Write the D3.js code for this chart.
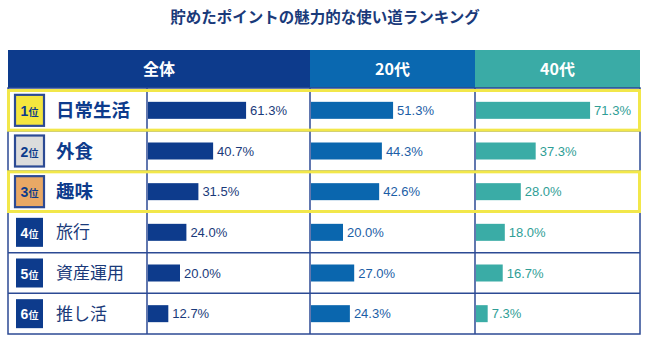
<!DOCTYPE html>
<html>
<head>
<meta charset="utf-8">
<script src="https://cdn.jsdelivr.net/npm/d3@7"></script>
<style>
  body { margin: 0; background: #fff; }
  text { font-family: "Noto Sans CJK JP", "Noto Sans", sans-serif; }
  .num { font-family: "Liberation Sans", Arial, sans-serif; }
</style>
</head>
<body>
<div id="chart"></div>
<script>
const title = '貯めたポイントの魅力的な使い道ランキング';
const groups = ['全体', '20代', '40代'];
const ranks = [1, 2, 3, 4, 5, 6];
const categories = ['日常生活', '外食', '趣味', '旅行', '資産運用', '推し活'];
const overall = [61.3, 40.7, 31.5, 24.0, 20.0, 12.7];
const age20 = [51.3, 44.3, 42.6, 20.0, 27.0, 24.3];
const age40 = [71.3, 37.3, 28.0, 18.0, 16.7, 7.3];

function makeChart() {
    const w = 650, h = 349;
    const navy = '#0d3b8c';
    const gridColor = '#2c4a94';
    const highlight = '#f2e74a';

    const svg = d3.select('#chart')
        .append('svg')
        .attr('width', w)
        .attr('height', h);

    // column layout: label column + three bar columns
    const left = 8, right = 640;
    const colEdges = [147, 310, 475, right];
    const headTop = 50, headBottom = 88;
    const tableBottom = 334;

    const series = [
        {name: groups[0], values: overall, bar: '#0d3b8c', text: '#1a3a7a', x0: colEdges[0], x1: colEdges[1]},
        {name: groups[1], values: age20, bar: '#0a66ae', text: '#1c5ea6', x0: colEdges[1], x1: colEdges[2]},
        {name: groups[2], values: age40, bar: '#3aaca6', text: '#2f9e96', x0: colEdges[2], x1: colEdges[3]}
    ];

    const y = d3.scaleBand()
        .domain(categories)
        .range([headBottom + 2, tableBottom]);

    const x = d3.scaleLinear()
        .domain([0, 100])
        .range([0, 160]);

    svg.append('text')
        .attr('x', w / 2)
        .attr('y', 23)
        .attr('text-anchor', 'middle')
        .attr('font-size', 15.5)
        .attr('font-weight', 'bold')
        .attr('fill', '#1a3a7a')
        .text(title);

    // header cells
    const headCells = [
        {label: groups[0], x0: left, x1: colEdges[1], fill: navy},
        {label: groups[1], x0: colEdges[1], x1: colEdges[2], fill: '#0a68b0'},
        {label: groups[2], x0: colEdges[2], x1: right, fill: '#3aaba6'}
    ];
    svg.selectAll('.head')
        .data(headCells)
        .enter()
        .append('rect')
        .attr('x', d => d.x0)
        .attr('y', headTop)
        .attr('width', d => d.x1 - d.x0)
        .attr('height', headBottom - headTop)
        .attr('fill', d => d.fill);
    svg.selectAll('.headText')
        .data(headCells)
        .enter()
        .append('text')
        .attr('x', d => (d.x0 + d.x1) / 2)
        .attr('y', (headTop + headBottom) / 2 + 6)
        .attr('text-anchor', 'middle')
        .attr('font-size', 16)
        .attr('font-weight', 'bold')
        .attr('fill', '#fff')
        .text(d => d.label);

    // grid
    const grid = svg.append('g')
        .attr('stroke', gridColor)
        .attr('stroke-width', 1.5)
        .attr('fill', 'none');
    grid.append('rect')
        .attr('x', left)
        .attr('y', headBottom)
        .attr('width', right - left)
        .attr('height', tableBottom - headBottom);
    categories.slice(1).forEach(c => {
        grid.append('line')
            .attr('x1', left).attr('x2', right)
            .attr('y1', y(c)).attr('y2', y(c));
    });
    colEdges.slice(0, 3).forEach(cx => {
        grid.append('line')
            .attr('x1', cx).attr('x2', cx)
            .attr('y1', headBottom).attr('y2', tableBottom);
    });

    // bars and value labels
    series.forEach(s => {
        const g = svg.append('g');
        g.selectAll('rect')
            .data(s.values)
            .enter()
            .append('rect')
            .attr('x', s.x0 + 1)
            .attr('y', (d, i) => y(categories[i]) + y.bandwidth() / 2 - 8.5)
            .attr('width', d => x(d))
            .attr('height', 17)
            .attr('fill', s.bar);
        g.selectAll('text')
            .data(s.values)
            .enter()
            .append('text')
            .attr('class', 'num')
            .attr('x', d => s.x0 + 1 + x(d) + 4)
            .attr('y', (d, i) => y(categories[i]) + y.bandwidth() / 2 + 4.5)
            .attr('font-size', 13)
            .attr('fill', s.text)
            .text(d => d.toFixed(1) + '%');
    });

    // rank badges and category names
    const badgeFill = ['#f5e63e', '#dcdcdc', '#e9a865'];
    const rows = svg.append('g')
        .selectAll('g')
        .data(categories)
        .enter()
        .append('g')
        .attr('transform', d => `translate(0, ${y(d) + y.bandwidth() / 2})`);

    rows.append('rect')
        .attr('x', (d, i) => i < 3 ? 15 : 16)
        .attr('y', (d, i) => i < 3 ? -15.5 : -14.5)
        .attr('width', (d, i) => i < 3 ? 29 : 27)
        .attr('height', (d, i) => i < 3 ? 31 : 29)
        .attr('fill', (d, i) => i < 3 ? badgeFill[i] : navy)
        .attr('stroke', (d, i) => i < 3 ? gridColor : 'none')
        .attr('stroke-width', 2.2);

    const badgeText = rows.append('text')
        .attr('x', 29.5)
        .attr('y', 5.5)
        .attr('text-anchor', 'middle')
        .attr('font-weight', 'bold')
        .attr('fill', (d, i) => i < 3 ? navy : '#fff');
    badgeText.append('tspan')
        .attr('class', 'num')
        .attr('font-size', 14)
        .text((d, i) => ranks[i]);
    badgeText.append('tspan')
        .attr('font-size', 10)
        .text('位');

    rows.append('text')
        .attr('x', 56)
        .attr('y', (d, i) => i < 3 ? 6.5 : 6)
        .attr('font-size', (d, i) => i < 3 ? 18.5 : 17)
        .attr('font-weight', (d, i) => i < 3 ? 'bold' : 'normal')
        .attr('fill', (d, i) => i < 3 ? navy : '#1a3a7a')
        .text(d => d);

    // yellow frames on highlighted rows
    [0, 2].forEach(i => {
        svg.append('rect')
            .attr('x', left + 0.5)
            .attr('y', y(categories[i]) + 0.5)
            .attr('width', right - left - 1)
            .attr('height', y.bandwidth() - 1)
            .attr('fill', 'none')
            .attr('stroke', highlight)
            .attr('stroke-width', 3);
    });
}

window.onload = () => {
    makeChart();
};
</script>
</body>
</html>
